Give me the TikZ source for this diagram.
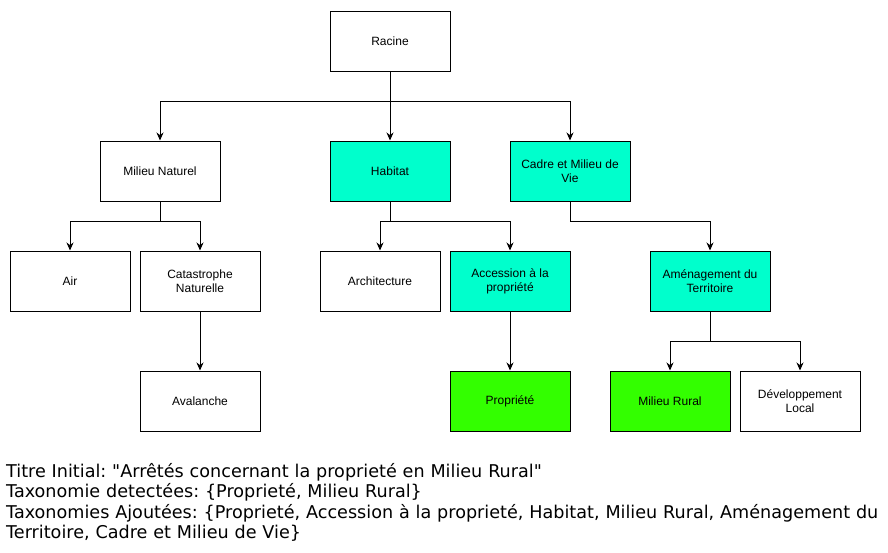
\documentclass[tikz,border=0pt]{standalone}
\usepackage{fontspec}
\setmainfont{Liberation Sans}
\newfontfamily\notefont{DejaVu Sans}
\usetikzlibrary{arrows.meta}

\definecolor{taxcyan}{RGB}{0,255,204}
\definecolor{taxgreen}{RGB}{51,255,0}

\tikzset{
  boite/.style={draw=black, line width=1pt, fill=white, minimum width=120pt, minimum height=60pt,
    inner sep=2pt, align=center, font=\fontsize{12}{14}\selectfont},
  ajout/.style={boite, fill=taxcyan},
  detecte/.style={boite, fill=taxgreen},
  lien/.style={line width=1pt},
  fleche/.style={lien, -{Stealth[length=8pt,width=7pt]}}
}

\begin{document}
\frenchspacing
\begin{tikzpicture}[x=1pt,y=-1pt]
\useasboundingbox (0,0) rectangle (888,552);

% niveau 0
\node[boite] (racine) at (390,41) {Racine};

% niveau 1
\node[boite] (naturel) at (160,171) {Milieu Naturel};
\node[ajout] (habitat) at (390,171) {Habitat};
\node[ajout] (cadre) at (570,171) {Cadre et Milieu de\\Vie};

% niveau 2
\node[boite] (air) at (70,281) {Air};
\node[boite] (catastrophe) at (200,281) {Catastrophe\\Naturelle};
\node[boite] (architecture) at (380,281) {Architecture};
\node[ajout] (accession) at (510,281) {Accession à la\\propriété};
\node[ajout] (amenagement) at (710,281) {Aménagement du\\Territoire};

% niveau 3
\node[boite] (avalanche) at (200,401) {Avalanche};
\node[detecte] (propriete) at (510,401) {Propriété};
\node[detecte] (rural) at (670,401) {Milieu Rural};
\node[boite] (developpement) at (800,401) {Développement\\Local};

% embranchements
\coordinate (j0) at (390,101);
\coordinate (j1) at (160,221);
\coordinate (j2) at (390,221);
\coordinate (j3) at (570,221);
\coordinate (j4) at (710,341);

\draw[lien] (racine) -- (j0);
\draw[fleche] (j0) -| (naturel);
\draw[fleche] (j0) -- (habitat);
\draw[fleche] (j0) -| (cadre);

\draw[lien] (naturel) -- (j1);
\draw[fleche] (j1) -| (air);
\draw[fleche] (j1) -| (catastrophe);

\draw[lien] (habitat) -- (j2);
\draw[fleche] (j2) -| (architecture);
\draw[fleche] (j2) -| (accession);

\draw[lien] (cadre) -- (j3);
\draw[fleche] (j3) -| (amenagement);

\draw[fleche] (catastrophe) -- (avalanche);
\draw[fleche] (accession) -- (propriete);

\draw[lien] (amenagement) -- (j4);
\draw[fleche] (j4) -| (rural);
\draw[fleche] (j4) -| (developpement);

% resume
\node[anchor=north west, inner sep=0pt, text width=884pt, align=left,
  font=\notefont\fontsize{17.6}{20.5}\selectfont] (resume) at (6,463)
  {Titre Initial: "Arrêtés concernant la proprieté en Milieu Rural"\\
   Taxonomie detectées: \{Proprieté, Milieu Rural\}\\
   Taxonomies Ajoutées: \{Proprieté, Accession à la proprieté, Habitat, Milieu Rural, Aménagement du\\
   Territoire, Cadre et Milieu de Vie\}};

\end{tikzpicture}
\end{document}
